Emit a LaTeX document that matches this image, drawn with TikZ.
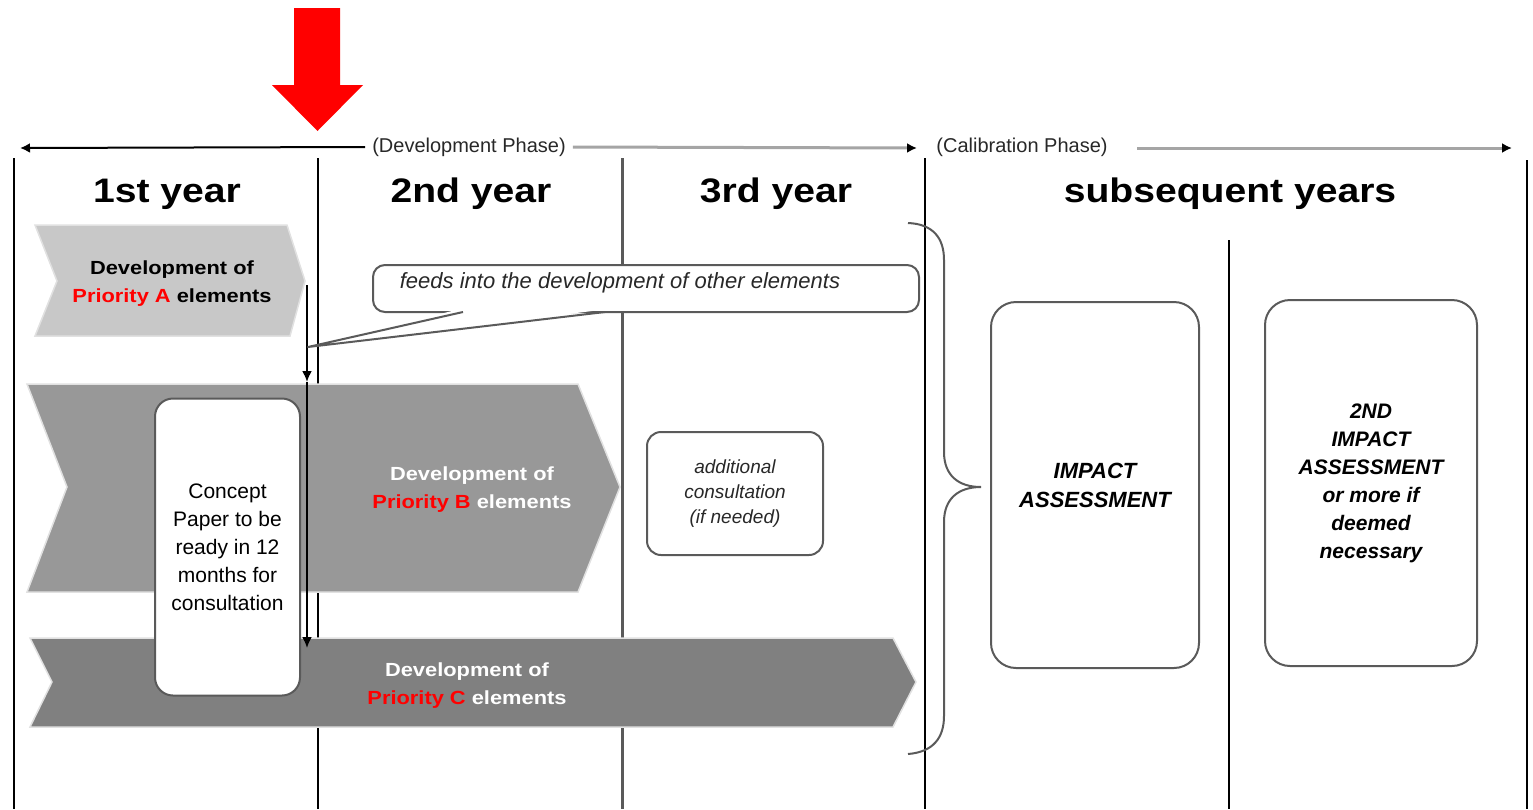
\documentclass[tikz,border=0pt]{standalone}
\usepackage{fontspec}
\setmainfont{Liberation Sans}
\newfontfamily\widefont{Liberation Sans}[FakeStretch=1.15]
\usetikzlibrary{arrows.meta}
\definecolor{chevA}{RGB}{200,200,200}
\definecolor{chevB}{RGB}{152,152,152}
\definecolor{chevC}{RGB}{128,128,128}
\definecolor{edgeg}{RGB}{225,225,225}
\definecolor{boxg}{RGB}{90,90,90}
\definecolor{phaseg}{RGB}{165,165,165}
\definecolor{txtg}{RGB}{40,40,40}
\definecolor{prio}{RGB}{255,0,0}
\begin{document}
\begin{tikzpicture}[x=1pt,y=-1pt,
 yearline/.style={line width=2pt,black},
 header/.style={anchor=base,font=\widefont\bfseries\fontsize{34}{40}\selectfont},
 chevron/.style={draw=edgeg,line width=1.5pt,line join=miter},
 chevtext/.style={align=center,font=\widefont\bfseries\fontsize{19}{28}\selectfont},
 roundbox/.style={draw=boxg,line width=2pt,fill=white,inner sep=0pt,align=center},
 tipline/.style={line width=2pt,-{Latex[length=11pt,width=10pt]}},
 phase/.style={font=\fontsize{20}{24}\selectfont,text=txtg,inner xsep=7pt,inner ysep=2pt}
]
\useasboundingbox (0,0) rectangle (1533,809);

% year separators
\draw[yearline] (14,158) -- (14,809);
\draw[yearline] (318,158) -- (318,809);
\draw[yearline,draw=boxg,line width=3pt] (622,158) -- (622,809);
\draw[yearline] (925,158) -- (925,809);
\draw[yearline] (1229,240) -- (1229,809);
\draw[yearline] (1527,160) -- (1527,809);

% headers
\node[header] (y1) at (167,202) {1st year};
\node[header] (y2) at (471,202) {2nd year};
\node[header] (y3) at (776,202) {3rd year};
\node[header] (ys) at (1230,202) {subsequent years};

% red arrow
\fill[red] (294,8) -- (340,8) -- (340,85) -- (363,85) -- (317.5,131) -- (272,85) -- (294,85) -- cycle;

% timeline
\coordinate (tl0) at (20,148);
\node[phase] (devph) at (469,147) {(Development Phase)};
\coordinate (tl1) at (917,148);
\node[phase] (calph) at (1022,147) {(Calibration Phase)};
\coordinate (tl1b) at (1137,148);
\coordinate (tl2) at (1512,148);
\draw[line width=2pt,-{Latex[length=10pt,width=10pt]}] (devph.west) -- (tl0);
\draw[line width=3pt,phaseg,-{Latex[color=black,length=10pt,width=10pt]}] (devph.east) -- (tl1);
\draw[line width=3pt,phaseg,-{Latex[color=black,length=10pt,width=10pt]}] (tl1b) -- (tl2);

% chevrons
\path[chevron,fill=chevA] (35,225) -- (287,225) -- (305,281) -- (290,336) -- (35,336) -- (57,281) -- cycle;
\node[chevtext] (pa) at (172,284) {Development of\\\textcolor{prio}{Priority A} elements};
\path[chevron,fill=chevB] (27,384) -- (578,384) -- (620,487) -- (578,592) -- (27,592) -- (67,487) -- cycle;
\node[chevtext,text=white] (pb) at (472,490) {Development of\\\textcolor{prio}{Priority B} elements};
\path[chevron,fill=chevC] (30,638) -- (893,638) -- (916,682) -- (893,727) -- (30,727) -- (52,682) -- cycle;
\node[chevtext,text=white] (pc) at (467,686) {Development of\\\textcolor{prio}{Priority C} elements};

% concept paper
\node[roundbox,rounded corners=18pt,minimum width=145pt,minimum height=297pt,font=\fontsize{21}{28}\selectfont] (concept) at (227.5,547) {Concept\\Paper to be\\ready in 12\\months for\\consultation};

% flow arrows
\coordinate (aout) at (307,285);
\coordinate (bin) at (307,382);
\coordinate (cin) at (307,648);
\draw[tipline] (aout) -- (bin);
\draw[tipline] (bin) -- (cin);

% callout
\node[draw=boxg,line width=2pt,fill=white,rounded corners=12pt,minimum width=546pt,minimum height=47pt] (feed) at (646,288.5) {};
\coordinate (ctip) at (308,347);
\fill[white] (460,309) -- (608,309) -- (ctip) -- cycle;
\draw[boxg,line width=2pt,line join=round] (463,312) -- (ctip) -- (605,312);
\node[font=\itshape\fontsize{22}{24}\selectfont,text=txtg] (feedtxt) at (620,283) {feeds into the development of other elements};

% additional consultation
\node[roundbox,rounded corners=14pt,minimum width=176pt,minimum height=123pt,font=\itshape\fontsize{19}{25}\selectfont,text=txtg] (addc) at (735,493.5) {additional\\consultation\\(if needed)};

% brace
\coordinate (bracetip) at (981,487);
\draw[boxg,line width=2pt] (908,223) .. controls (933,224) and (944,238) .. (944,260) -- (944,452) .. controls (944,475) and (958,487) .. (bracetip) .. controls (958,487) and (944,499) .. (944,522) -- (944,716) .. controls (944,738) and (933,752) .. (908,754);

% impact assessments
\node[roundbox,rounded corners=25pt,minimum width=208pt,minimum height=366pt,font=\bfseries\itshape\fontsize{22}{29}\selectfont] (imp1) at (1095,485) {IMPACT\\ASSESSMENT};
\node[roundbox,rounded corners=25pt,minimum width=212pt,minimum height=366pt,font=\bfseries\itshape\fontsize{21}{28}\selectfont] (imp2) at (1371,483) {2ND\\IMPACT\\ASSESSMENT\\or more if\\deemed\\necessary};
\end{tikzpicture}
\end{document}
